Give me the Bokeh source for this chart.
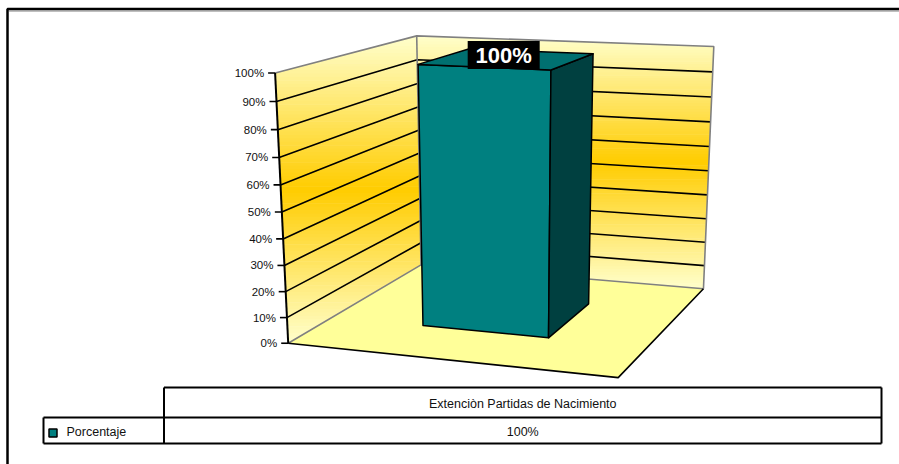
import numpy as np
from bokeh.plotting import figure
from bokeh.models import Range1d
from bokeh.core.properties import value
from bokeh.embed import file_html
from bokeh.resources import INLINE

# ---- data -------------------------------------------------------------
categories = ["Extenciòn Partidas de Nacimiento"]
series_name = "Porcentaje"
values = [100]
y_ticks = [0, 10, 20, 30, 40, 50, 60, 70, 80, 90, 100]
y_tick_labels = ["0%", "10%", "20%", "30%", "40%", "50%", "60%", "70%", "80%", "90%", "100%"]
value_labels = ["100%"]

# ---- styling / layout -------------------------------------------------
W, H = 899, 464
FONT = "Liberation Sans"
BAR_FRONT, BAR_SIDE, BAR_TOP = "#008080", "#004040", "#007070"
FLOOR_COLOR = "#FFFF99"
WALL_EDGE, WALL_MID = "#FFFFCC", "#FFCC00"
EDGE_GRAY = "#808080"
GAP_WIDTH = 1.5   # gap between bars, as a fraction of bar width
GAP_DEPTH = 1.5
Y_MAX = 100.0

# screen position of the plot box corners (category, value, depth) -> px
BOX_CORNERS = [
    ((0, 0, 0), (288, 342)),
    ((0, 0, 1), (420, 265)),
    ((1, 0, 1), (703, 288)),
    ((1, 0, 0), (618, 377.5)),
    ((0, 1, 0), (274, 73)),
    ((0, 1, 1), (417, 35)),
    ((1, 1, 1), (713, 46)),
]


def fit_camera(corners):
    pts2 = np.array([c[1] for c in corners], float)
    mean = pts2.mean(axis=0)
    scale = np.sqrt(2) / np.mean(np.linalg.norm(pts2 - mean, axis=1))
    T = np.array([[scale, 0, -scale * mean[0]], [0, scale, -scale * mean[1]], [0, 0, 1]])
    rows = []
    for (X, Y, Z), (u, v) in corners:
        un, vn, _ = T @ np.array([u, v, 1.0])
        rows.append([X, Y, Z, 1, 0, 0, 0, 0, -un * X, -un * Y, -un * Z, -un])
        rows.append([0, 0, 0, 0, X, Y, Z, 1, -vn * X, -vn * Y, -vn * Z, -vn])
    _, _, vt = np.linalg.svd(np.array(rows, float))
    Pn = vt[-1].reshape(3, 4)
    return np.linalg.inv(T) @ Pn


CAM = fit_camera(BOX_CORNERS)


def proj(X, Y, Z):
    q = CAM @ np.array([X, Y, Z, 1.0])
    return q[0] / q[2], q[1] / q[2]


def proj_poly(pts):
    xy = [proj(*pt) for pt in pts]
    return [a for a, _ in xy], [b for _, b in xy]


def clip_band(poly, lo, hi):
    """Clip a polygon to the horizontal band lo <= y <= hi."""
    def clip(points, inside, cross):
        out = []
        n = len(points)
        for i in range(n):
            cur, prev = points[i], points[i - 1]
            if inside(cur):
                if not inside(prev):
                    out.append(cross(prev, cur))
                out.append(cur)
            elif inside(prev):
                out.append(cross(prev, cur))
        return out

    def cross_at(yc):
        def f(a, b):
            t = (yc - a[1]) / (b[1] - a[1])
            return (a[0] + t * (b[0] - a[0]), yc)
        return f

    pts = clip(poly, lambda p: p[1] >= lo, cross_at(lo))
    if pts:
        pts = clip(pts, lambda p: p[1] <= hi, cross_at(hi))
    return pts


def mix(c1, c2, t):
    a = np.array([int(c1[i:i + 2], 16) for i in (1, 3, 5)], float)
    b = np.array([int(c2[i:i + 2], 16) for i in (1, 3, 5)], float)
    c = a + (b - a) * t
    return "#%02x%02x%02x" % tuple(int(round(v)) for v in c)


def gradient_strips(poly, n=90):
    ys = [p[1] for p in poly]
    y0, y1 = min(ys), max(ys)
    mid, half = (y0 + y1) / 2, (y1 - y0) / 2
    h = (y1 - y0) / n
    xs_out, ys_out, cols = [], [], []
    for k in range(n):
        a = y0 + k * h
        b = min(a + h + 0.6, y1)
        pts = clip_band(poly, a, b)
        if len(pts) < 3:
            continue
        t = abs((a + h / 2) - mid) / half
        xs_out.append([p[0] for p in pts])
        ys_out.append([p[1] for p in pts])
        cols.append(mix(WALL_MID, WALL_EDGE, min(t, 1.0)))
    return xs_out, ys_out, cols


p = figure(width=W, height=H, x_range=Range1d(0, W), y_range=Range1d(H, 0),
           output_backend="svg", toolbar_location=None, min_border=0,
           background_fill_color="white", border_fill_color="white")
p.axis.visible = False
p.grid.visible = False
p.outline_line_color = None

# ---- floor ------------------------------------------------------------
fx, fy = proj_poly([(0, 0, 0), (1, 0, 0), (1, 0, 1), (0, 0, 1)])
p.patch(fx, fy, fill_color=FLOOR_COLOR, line_color=None)

# ---- walls with vertical gradient --------------------------------------
left_wall = [proj(0, 0, 0), proj(0, 0, 1), proj(0, 1, 1), proj(0, 1, 0)]
back_wall = [proj(0, 0, 1), proj(1, 0, 1), proj(1, 1, 1), proj(0, 1, 1)]
for wall in (left_wall, back_wall):
    sx, sy, sc = gradient_strips(wall)
    p.patches(sx, sy, fill_color=sc, line_color=None)

# ---- gridlines ----------------------------------------------------------
gx, gy = [], []
for t in y_ticks[1:-1]:
    v = t / Y_MAX
    xs, ys = proj_poly([(0, v, 0), (0, v, 1), (1, v, 1)])
    gx.append(xs)
    gy.append(ys)
p.multi_line(gx, gy, line_color="black", line_width=1.6)

# ---- wall & floor borders ----------------------------------------------
gray_edges = [
    [(0, 1, 0), (0, 1, 1), (1, 1, 1), (1, 0, 1)],
    [(0, 1, 1), (0, 0, 1)],
    [(0, 0, 0), (0, 0, 1), (1, 0, 1)],
]
ex, ey = zip(*[proj_poly(e) for e in gray_edges])
p.multi_line(list(ex), list(ey), line_color=EDGE_GRAY, line_width=1.6)
bx, by = proj_poly([(0, 0, 0), (1, 0, 0), (1, 0, 1)])
p.line(bx, by, line_color="black", line_width=1.6)

# ---- bars -------------------------------------------------------------
n = len(categories)
bar_w = (1.0 / n) / (1 + GAP_WIDTH)
bar_d = 1.0 / (1 + GAP_DEPTH)
z0, z1 = 0.5 - bar_d / 2, 0.5 + bar_d / 2
for i, val in enumerate(values):
    c = (i + 0.5) / n
    x0, x1 = c - bar_w / 2, c + bar_w / 2
    top = val / Y_MAX
    faces = [
        ([(x0, 0, z0), (x1, 0, z0), (x1, top, z0), (x0, top, z0)], BAR_FRONT),
        ([(x1, 0, z0), (x1, 0, z1), (x1, top, z1), (x1, top, z0)], BAR_SIDE),
        ([(x0, top, z0), (x1, top, z0), (x1, top, z1), (x0, top, z1)], BAR_TOP),
    ]
    for pts, col in faces:
        xs, ys = proj_poly(pts)
        p.patch(xs, ys, fill_color=col, line_color="black", line_width=1.5,
                line_join="round")
    # data label above the bar top
    lx, ly = proj(c, top, 0.5)
    lx -= 4
    ly -= 4
    p.quad(left=[lx - 36], right=[lx + 36], top=[ly - 14], bottom=[ly + 14],
           fill_color="black", line_color=None)
    p.text([lx], [ly + 1], text=[value_labels[i]], text_color="white",
           text_font=value(FONT), text_font_style="bold", text_font_size="22px",
           text_align="center", text_baseline="middle")

# ---- value axis ---------------------------------------------------------
axx, axy = proj_poly([(0, 0, 0), (0, 1, 0)])
p.line(axx, axy, line_color="black", line_width=2)
tx0, tx1, tyy, lxs = [], [], [], []
for t in y_ticks:
    ax_, ay_ = proj(0, t / Y_MAX, 0)
    tx0.append(ax_ - 7)
    tx1.append(ax_)
    tyy.append(ay_)
    lxs.append(ax_ - 11)
p.segment(tx0, tyy, tx1, tyy, line_color="black", line_width=1.6)
p.text(lxs, tyy, text=y_tick_labels, text_font=value(FONT), text_font_size="11.5px",
       text_color="#111111", text_align="right", text_baseline="middle")

# ---- data table under the chart ----------------------------------------
TL, TC, TR = 43, 163.5, 881
TY0, TY1, TY2 = 387, 417, 443
p.multi_line(
    [[TC, TR], [TL, TR], [TL, TR], [TC, TC], [TR, TR], [TL, TL]],
    [[TY0, TY0], [TY1, TY1], [TY2, TY2], [TY0, TY2], [TY0, TY2], [TY1, TY2]],
    line_color="black", line_width=2)
p.text([(TC + TR) / 2], [(TY0 + TY1) / 2 + 1], text=categories, text_font=value(FONT),
       text_font_size="12.5px", text_color="#111111", text_align="center",
       text_baseline="middle")
p.text([(TC + TR) / 2], [(TY1 + TY2) / 2 + 1], text=value_labels, text_font=value(FONT),
       text_font_size="12.5px", text_color="#111111", text_align="center",
       text_baseline="middle")
p.rect([52.5], [432.5], width=8, height=8, fill_color=BAR_FRONT, line_color="black",
       line_width=1.5)
p.text([66], [(TY1 + TY2) / 2 + 1], text=[series_name], text_font=value(FONT),
       text_font_size="12.5px", text_color="#111111", text_align="left",
       text_baseline="middle")

# ---- chart border -------------------------------------------------------
p.line([7, 7, W], [H, 8.5, 8.5], line_color="black", line_width=2.5)
p.line([8.5, W], [10.5, 10.5], line_color=EDGE_GRAY, line_width=1)

open("out.html", "w").write(file_html(p, INLINE))
